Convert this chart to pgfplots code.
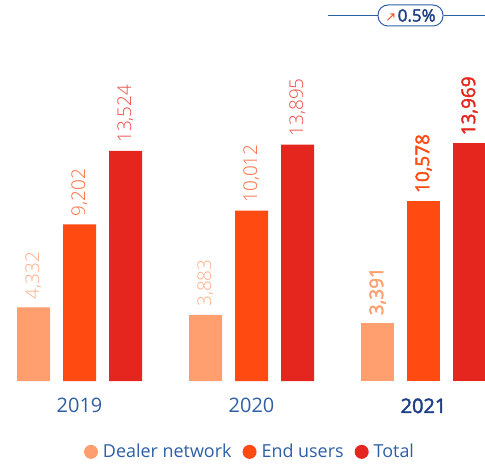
\documentclass[border=0pt]{standalone}
\usepackage{pgfplots}
\pgfplotsset{compat=1.18}
\usepackage{fontspec}
\setmainfont{Open Sans}
\newfontfamily\lightfont{Open Sans Light}
\newfontfamily\semifont{Open Sans}[FakeBold=2.2]
\newfontfamily\symfont{DejaVu Sans}
\definecolor{cDealer}{HTML}{FF9E6E}
\definecolor{cEnd}{HTML}{FF4A12}
\definecolor{cTotal}{HTML}{E5261E}
\definecolor{lDealer}{HTML}{FFAE88}
\definecolor{lEnd}{HTML}{FF6A3E}
\definecolor{lTotal}{HTML}{EE4A42}
\definecolor{tBlue}{HTML}{2E5FA6}
\definecolor{tNavy}{HTML}{1D3F85}
\pgfplotstableread{
x y
33.5 4332
205.5 3883
}\dealerA
\pgfplotstableread{
x y
377.5 3391
}\dealerB
\pgfplotstableread{
x y
79.5 9202
251.5 10012
}\endA
\pgfplotstableread{
x y
423.5 10578
}\endB
\pgfplotstableread{
x y
125.5 13524
297.5 13895
}\totalA
\pgfplotstableread{
x y
469.5 13969
}\totalB
\begin{document}
\begin{tikzpicture}
\path[use as bounding box] (0,0) rectangle (485bp,464bp);
\begin{axis}[
  at={(0bp,83bp)}, anchor=south west,
  scale only axis, width=485bp, height=381bp,
  xmin=0, xmax=485, ymin=0, ymax=22399,
  clip=false,
  axis line style={draw=none},
  ytick=\empty,
  xtick={79.5,251.5,423.5},
  xticklabels={2019,2020,{\semifont\color{tNavy}2021}},
  xticklabel style={font=\fontsize{20}{24}\selectfont, text=tBlue, yshift=-14bp},
  major tick length=0pt,
  ybar, bar width=33, bar shift=0pt,
  /pgf/number format/.cd, 1000 sep={,}, fixed, assume math mode=true,
  /pgfplots/.cd,
  nodes near coords,
  every node near coord/.append style={rotate=90, anchor=west, inner xsep=8bp, inner ysep=0pt, font=\lightfont\fontsize{19}{22}\selectfont},
  legend style={at={(250/485,-0.186)}, anchor=center, draw=none, fill=none,
    legend columns=3, font=\fontsize{18}{20}\selectfont, text=tBlue,
    /tikz/every even column/.append style={column sep=9bp},
    /tikz/every odd column/.append style={column sep=3bp}},
  legend image code/.code={\fill[#1] (3bp,0bp) circle (7bp);},
]
\addplot[fill=cDealer, draw=none, nodes near coords style={text=lDealer}] table {\dealerA};
\addlegendentry{Dealer network}
\addplot[fill=cEnd, draw=none, nodes near coords style={text=lEnd}] table {\endA};
\addlegendentry{End users}
\addplot[fill=cTotal, draw=none, nodes near coords style={text=lTotal}] table {\totalA};
\addlegendentry{Total}
\addplot[fill=cDealer, draw=none, forget plot, nodes near coords style={text=cDealer, font=\semifont\fontsize{19}{22}\selectfont}] table {\dealerB};
\addplot[fill=cEnd, draw=none, forget plot, nodes near coords style={text=cEnd, font=\semifont\fontsize{19}{22}\selectfont}] table {\endB};
\addplot[fill=cTotal, draw=none, forget plot, nodes near coords style={text=cTotal, font=\semifont\fontsize{19}{22}\selectfont}] table {\totalB};
\end{axis}
\draw[tBlue, line width=1bp] (328bp,448.5bp) -- (378bp,448.5bp);
\draw[tBlue, line width=1bp] (444bp,448.5bp) -- (485bp,448.5bp);
\node[draw=tBlue, line width=1bp, rounded corners=10bp, minimum width=65bp, minimum height=21bp, inner sep=0pt, anchor=center] at (410.5bp,448.5bp)
 {\symfont\fontsize{13}{13}\selectfont\color{cEnd}↗\kern1.5bp\semifont\fontsize{17}{18}\selectfont\color{tNavy}0.5\%};
\end{tikzpicture}
\end{document}
